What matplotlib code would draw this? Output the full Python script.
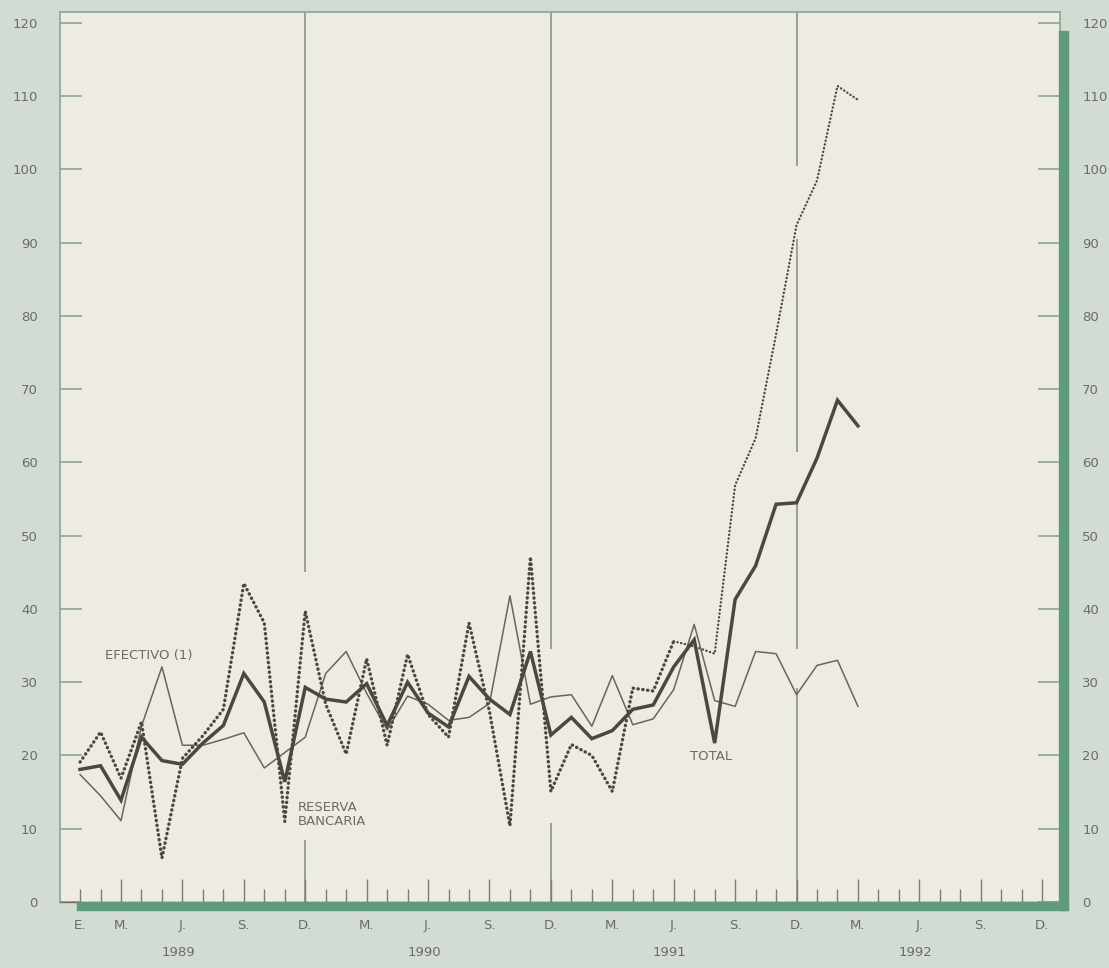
import numpy as np
import matplotlib.pyplot as plt
from matplotlib.patches import Rectangle

# Tasas de variación mensual, enero 1989 - marzo 1992
efectivo = [17.4, 14.5, 11.1, 24.0, 32.1, 21.4, 21.4, 22.2, 23.1, 18.3,
            20.4, 22.5, 31.2, 34.2, 28.5, 23.5, 28.1, 27.0, 24.8, 25.2,
            27.1, 41.8, 27.0, 28.0, 28.3, 24.0, 30.9, 24.2, 25.0, 29.0,
            37.9, 27.5, 26.7, 34.2, 33.9, 28.3, 32.3, 33.0, 26.7]
reserva = [19.1, 23.2, 16.9, 24.6, 6.0, 19.6, 22.7, 26.3, 43.5, 38.1,
           11.0, 39.7, 27.0, 20.2, 33.2, 21.4, 33.8, 25.6, 22.5, 38.1,
           26.0, 10.4, 47.1, 15.1, 21.5, 20.0, 15.1, 29.2, 28.8, 35.6,
           34.9, 33.9, 56.9, 63.3, 77.5, 92.4, 98.5, 111.4, 109.5]
total = [18.1, 18.6, 13.9, 22.5, 19.3, 18.8, 21.7, 24.1, 31.2, 27.3,
         16.4, 29.3, 27.7, 27.3, 29.8, 24.1, 30.0, 25.8, 23.9, 30.8,
         27.7, 25.6, 34.2, 22.8, 25.2, 22.3, 23.4, 26.3, 26.9, 32.1,
         35.8, 21.7, 41.3, 45.9, 54.3, 54.5, 60.6, 68.5, 65.0]

anios = ['1989', '1990', '1991', '1992']
meses_etq = ['E.', 'M.', 'J.', 'S.', 'D.'] + ['M.', 'J.', 'S.', 'D.'] * 3
meses_pos = [0] + list(range(2, 48, 3))

W, H = 1109, 968
fondo = '#d3dcd2'
crema = '#eeebe2'
verde = '#5f9a7d'
marco = '#8ea292'
tinta = '#4d4742'
gris = '#6c6b66'

plt.rcParams['font.family'] = 'DejaVu Sans'
fig = plt.figure(figsize=(W / 100, H / 100), dpi=100)
fig.patch.set_facecolor(fondo)
ax = fig.add_axes([60 / W, (H - 902) / H, 1000 / W, 890 / H])
ax.set_facecolor(crema)

x = np.arange(len(total))

# lineas verticales de diciembre, cortadas donde pasan las series
cortes = {11: [(45.0, 121.5), (0, 8.5)],
          23: [(34.5, 121.5), (0, 10.8)],
          35: [(100.5, 121.5), (61.5, 90.5), (34.6, 54.5), (0, 29.2)]}
for xm, tramos in cortes.items():
    for y0, y1 in tramos:
        ax.vlines(xm, y0, y1, color='#7f8f84', lw=1.1, zorder=1)

ax.plot(x, efectivo, color='#6a645f', lw=1.1, zorder=3)
ax.plot(x[:30], reserva[:30], color=tinta, lw=2.4, linestyle=(0, (0.1, 1.35)),
        dash_capstyle='round', zorder=3)
ax.plot(x[29:], reserva[29:], color=tinta, lw=1.7, linestyle=(0, (0.1, 1.5)),
        dash_capstyle='round', zorder=3)
ax.plot(x, total, color=tinta, lw=2.5, solid_joinstyle='miter', zorder=4)

ax.set_xlim(-0.98, 47.87)
ax.set_ylim(0, 121.5)

ax.set_yticks(range(0, 121, 10))
ax.tick_params(axis='y', direction='in', length=15.5, width=1.2, color=marco,
               left=True, right=True, labelleft=True, labelright=True,
               labelsize=9.5, labelcolor=gris, pad=16)

ax.set_xticks(meses_pos)
ax.set_xticklabels(meses_etq)
ax.set_xticks(range(48), minor=True)
ax.tick_params(axis='x', which='major', direction='in', length=16.5, width=1.0,
               color='#7c7b74', labelsize=9.5, labelcolor=gris, pad=12)
ax.tick_params(axis='x', which='minor', direction='in', length=9.5, width=1.0,
               color='#7c7b74')
ax.xaxis.get_major_ticks()[0].tick1line.set_markersize(9.5)

for lado in ['left', 'top', 'right']:
    ax.spines[lado].set_color(marco)
    ax.spines[lado].set_linewidth(1.2)
ax.spines['bottom'].set_color('#6e6e68')
ax.spines['bottom'].set_linewidth(1.0)

for k, anio in enumerate(anios):
    ax.annotate(anio, xy=(12 * k + 4.8, 0), xycoords=('data', 'axes fraction'),
                xytext=(0, -36.5), textcoords='offset points', ha='center',
                va='center', fontsize=9.5, color=gris, annotation_clip=False)

ax.text(1.2, 33.7, 'EFECTIVO (1)', fontsize=9.5, color=gris, va='center')
ax.text(10.65, 12.0, 'RESERVA\nBANCARIA', fontsize=9.5, color=gris,
        va='center', ha='left', linespacing=1.1)
ax.text(29.8, 19.8, 'TOTAL', fontsize=9.5, color=gris, va='center')

# barra verde de sombra, abajo y a la derecha del marco
fig.patches.append(Rectangle((77 / W, (H - 910) / H), 991 / W, 8 / H,
                             transform=fig.transFigure, color=verde, zorder=5))
fig.patches.append(Rectangle((1059 / W, (H - 910) / H), 9 / W, 879 / H,
                             transform=fig.transFigure, color=verde, zorder=5))

fig.savefig('out.png', dpi=100, facecolor=fondo)
